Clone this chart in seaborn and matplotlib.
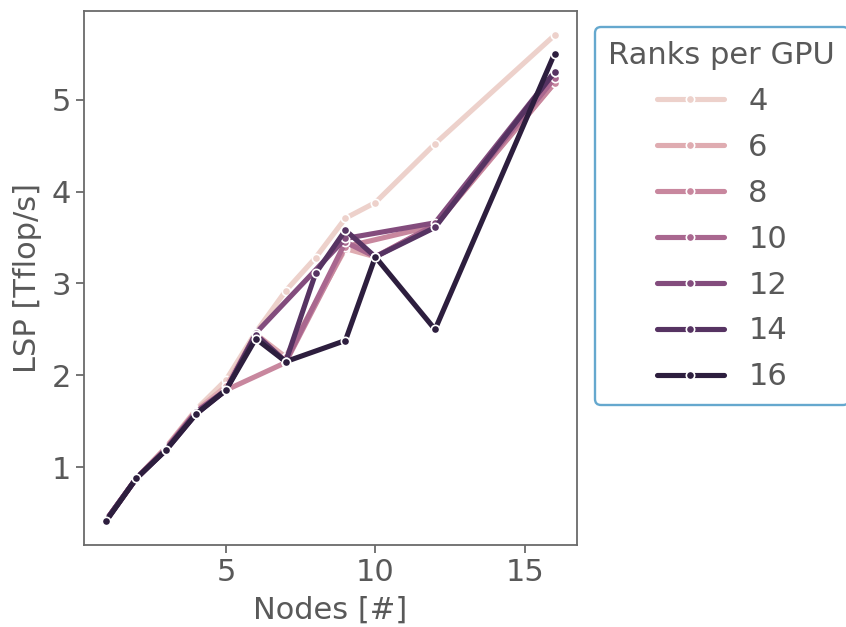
import matplotlib
matplotlib.use("Agg")
import matplotlib.pyplot as plt
import seaborn as sns
import pandas as pd

# LSP throughput per node count, one series per ranks-per-GPU setting
nodes_r4 = [1, 2, 3, 4, 5, 6, 7, 8, 9, 10, 12, 16]
lsp_r4 = [0.43, 0.88, 1.22, 1.63, 1.95, 2.47, 2.92, 3.28, 3.71, 3.88, 4.52, 5.70]

nodes_r6 = [1, 2, 3, 4, 5, 6, 7, 9, 10, 12, 16]
lsp_r6 = [0.43, 0.88, 1.22, 1.62, 1.88, 2.45, 2.20, 3.38, 3.29, 3.63, 5.18]

nodes_r8 = [1, 2, 3, 4, 5, 7, 9, 12, 16]
lsp_r8 = [0.43, 0.88, 1.21, 1.61, 1.84, 2.14, 3.40, 3.63, 5.18]

nodes_r10 = [1, 2, 3, 4, 5, 6, 7, 9, 10, 12, 16]
lsp_r10 = [0.43, 0.88, 1.20, 1.60, 1.84, 2.45, 2.15, 3.45, 3.29, 3.64, 5.23]

nodes_r12 = [1, 2, 3, 4, 5, 6, 9, 12, 16]
lsp_r12 = [0.43, 0.88, 1.20, 1.60, 1.84, 2.46, 3.49, 3.66, 5.30]

nodes_r14 = [1, 2, 3, 4, 5, 6, 7, 8, 9, 10, 12, 16]
lsp_r14 = [0.43, 0.88, 1.19, 1.58, 1.84, 2.44, 2.15, 3.11, 3.58, 3.29, 3.61, 5.30]

nodes_r16 = [1, 2, 3, 4, 5, 6, 7, 9, 10, 12, 16]
lsp_r16 = [0.42, 0.88, 1.19, 1.58, 1.84, 2.40, 2.15, 2.38, 3.29, 2.50, 5.50]

ranks_per_gpu = [4, 6, 8, 10, 12, 14, 16]
series_nodes = [nodes_r4, nodes_r6, nodes_r8, nodes_r10, nodes_r12, nodes_r14, nodes_r16]
series_lsp = [lsp_r4, lsp_r6, lsp_r8, lsp_r10, lsp_r12, lsp_r14, lsp_r16]

rows = []
for r, xs, ys in zip(ranks_per_gpu, series_nodes, series_lsp):
    for x, y in zip(xs, ys):
        rows.append({"Nodes": x, "LSP": y, "Ranks per GPU": r})
df = pd.DataFrame(rows)

sns.set_theme(style="ticks")
text_color = "#595959"
edge_color = "#6a6a6a"
plt.rcParams.update({
    "font.family": ["DejaVu Sans"],
    "text.color": text_color,
    "axes.labelcolor": text_color,
    "xtick.color": edge_color,
    "ytick.color": edge_color,
    "xtick.labelcolor": text_color,
    "ytick.labelcolor": text_color,
    "axes.edgecolor": edge_color,
})

fig = plt.figure(figsize=(8.46, 6.27), dpi=100)
ax = fig.add_axes([0.0993, 0.1308, 0.5827, 0.8517])

sns.lineplot(
    data=df, x="Nodes", y="LSP", hue="Ranks per GPU",
    marker="o", markersize=6, markeredgecolor="white", markeredgewidth=1.2,
    linewidth=3.7, legend="full", sort=False, ax=ax,
)

ax.set_xlabel("Nodes [#]", fontsize=22, labelpad=6)
ax.set_ylabel("LSP [Tflop/s]", fontsize=22, labelpad=7)
ax.set_xticks([5, 10, 15])
ax.set_yticks([1, 2, 3, 4, 5])
ax.tick_params(axis="both", labelsize=22, length=6, width=1.3)
for s in ax.spines.values():
    s.set_linewidth(1.3)
    s.set_color(edge_color)

sns.move_legend(
    ax, "upper left", bbox_to_anchor=(1.036, 0.97), borderaxespad=0,
    title="Ranks per GPU", frameon=True, fontsize=22, title_fontsize=22,
    handlelength=2.2, labelspacing=0.555, borderpad=0.45,
)
leg = ax.get_legend()
frame = leg.get_frame()
frame.set_edgecolor("#3f93c2")
frame.set_linewidth(1.7)
for t in leg.get_texts():
    t.set_color(text_color)
leg.get_title().set_color(text_color)

fig.savefig("out.png", dpi=100)
